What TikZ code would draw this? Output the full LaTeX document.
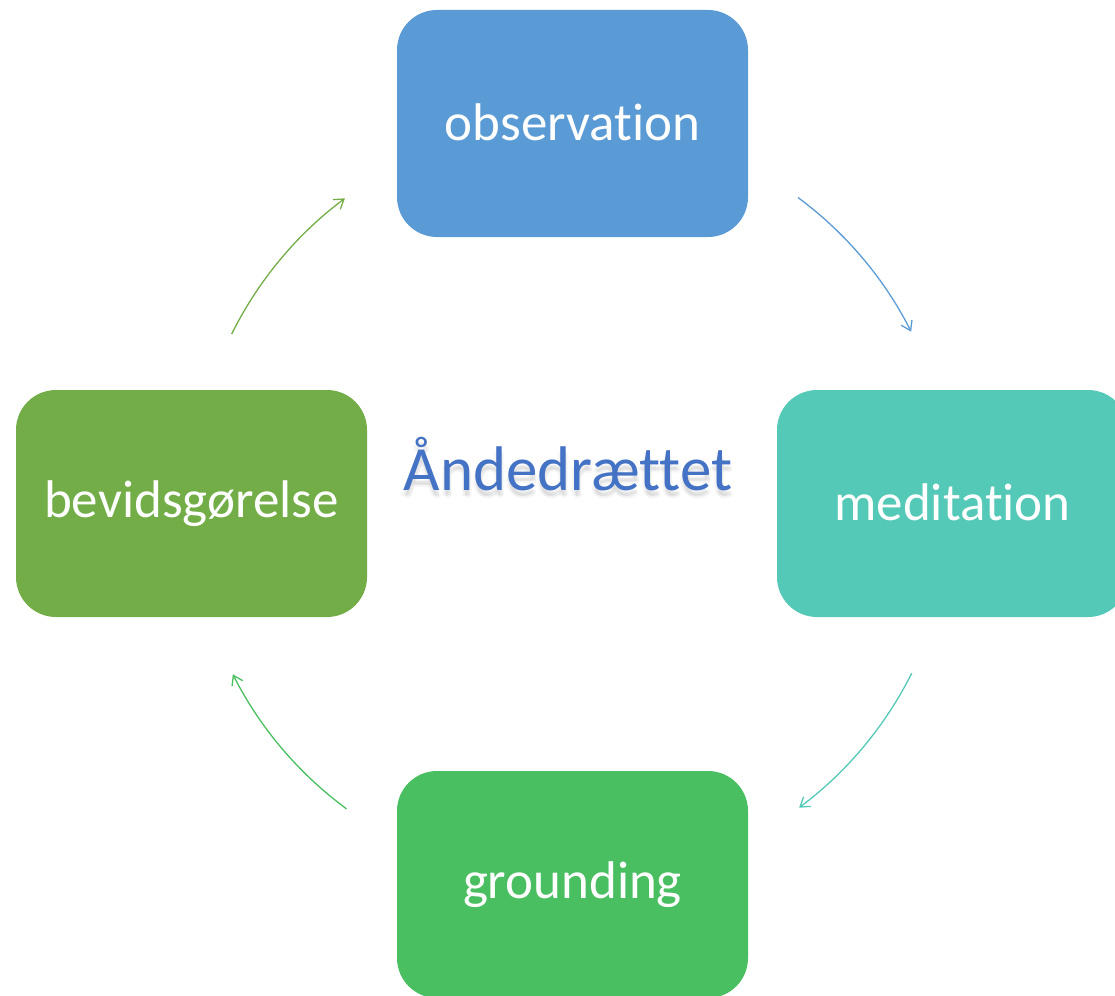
\documentclass[tikz,border=0pt]{standalone}
\usepackage{fontspec}
\setmainfont{Carlito}[Ligatures={NoCommon}]
\usetikzlibrary{arrows.meta}
\definecolor{cobs}{HTML}{5B9BD5}
\definecolor{cmed}{HTML}{55C9B7}
\definecolor{cgro}{HTML}{4ABF61}
\definecolor{cbev}{HTML}{72AD47}
\definecolor{ctit}{HTML}{4472C4}
\tikzset{
  box/.style={rounded corners=40pt, minimum width=351pt, minimum height=227pt, text=white, font=\fontsize{53}{60}\selectfont, inner sep=0pt},
  cyc/.style={line width=1.3pt, -{Straight Barb[length=9pt,width=12pt]}},
  titlefont/.style={font=\fontsize{63}{70}\selectfont, inner sep=0pt},
}
\newcommand{\up}[1]{\raisebox{3pt}{#1}}
\begin{document}
\begin{tikzpicture}[x=1pt,y=-1pt]
\useasboundingbox (0,0) rectangle (1115,995);
\begin{scope}
\clip (0,0) rectangle (1115,995);
\node[box, fill=cobs] (obs) at (572.5,123.5) {\up{observation}};
\node[box, fill=cmed] (med) at (952.5,503.5) {\up{meditation}};
\node[box, fill=cgro] (gro) at (572.5,884.5) {\up{grounding}};
\node[box, fill=cbev] (bev) at (191.5,503.5) {\up{bevidsgørelse}};
\end{scope}
\coordinate (c) at (572,503);
\foreach \dx/\dy in {0/5,2/6,-2/6,1/8}{
  \node[titlefont, text=black, opacity=0.035] at (568+\dx,464+\dy) {Åndedrættet};
}
\node[titlefont, text=ctit] (tit) at (568,464) {Åndedrættet};
% arrows along circle radius 380 around c
\draw[cyc, cobs] (c) ++(53.5:380 and -380) coordinate (s1) arc[start angle=53.5, end angle=26.8, x radius=380, y radius=-380];
\draw[cyc, cmed] (c) ++(-26.6:380 and -380) coordinate (s2) arc[start angle=-26.6, end angle=-53.3, x radius=380, y radius=-380];
\draw[cyc, cgro] (c) ++(-126.4:380 and -380) coordinate (s3) arc[start angle=-126.4, end angle=-153.2, x radius=380, y radius=-380];
\draw[cyc, cbev] (c) ++(153.6:380 and -380) coordinate (s4) arc[start angle=153.6, end angle=126.7, x radius=380, y radius=-380];
\end{tikzpicture}
\end{document}
